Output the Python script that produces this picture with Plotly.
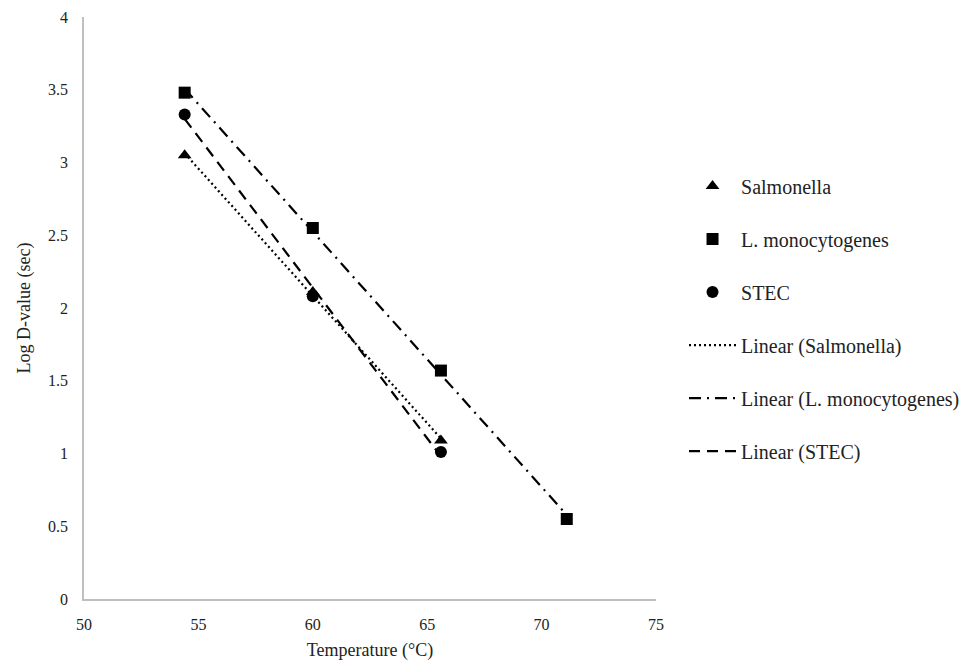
import numpy as np
import plotly.graph_objects as go

temps = [54.4, 60.0, 65.6]
temps_lm = [54.4, 60.0, 65.6, 71.1]
salmonella = [3.05, 2.11, 1.09]
listeria = [3.48, 2.55, 1.57, 0.55]
stec = [3.33, 2.08, 1.01]

FONT = "Liberation Serif"
fig = go.Figure()

series = [
    ("Salmonella", temps, salmonella, "triangle-up", "2px,3px"),
    ("L. monocytogenes", temps_lm, listeria, "square", "12px,6px,2px,6px"),
    ("STEC", temps, stec, "circle", "11px,7px"),
]

for i, (name, xs, ys, sym, dash) in enumerate(series):
    fig.add_trace(go.Scatter(x=xs, y=ys, mode="markers", name=name,
                             legendgroup=f"m{i}", legendrank=i,
                             marker=dict(symbol=sym, size=12, color="black")))

for i, (name, xs, ys, sym, dash) in enumerate(series):
    k, b = np.polyfit(xs, ys, 1)
    xl = [min(xs), max(xs)]
    yl = [k * x + b for x in xl]
    fig.add_trace(go.Scatter(x=xl, y=yl, mode="lines", name=f"Linear ({name})",
                             legendgroup=f"l{i}", legendrank=10 + i,
                             line=dict(color="black", width=2.2, dash=dash)))

fig.update_layout(
    width=967, height=660,
    margin=dict(l=76, r=319, t=9, b=69, autoexpand=False),
    plot_bgcolor="white", paper_bgcolor="white",
    font=dict(family=FONT, size=16, color="#222"),
    xaxis=dict(range=[50, 75], dtick=5, showgrid=False, zeroline=False,
               showline=True, linecolor="#bfbfbf", linewidth=1.5, automargin=False,
               ticks="", tickfont=dict(size=16), ticklabelstandoff=10,
               ticklabeloverflow="allow",
               title=dict(text="Temperature (°C)", font=dict(size=18), standoff=11)),
    yaxis=dict(range=[0, 4], dtick=0.5, showgrid=False, zeroline=False,
               showline=True, linecolor="#bfbfbf", linewidth=1.5, automargin=False,
               ticks="", tickfont=dict(size=16), ticklabelstandoff=11,
               ticklabeloverflow="allow",
               title=dict(text="Log D-value (sec)", font=dict(size=18), standoff=13)),
    legend=dict(x=1.049, y=0.743, xanchor="left", yanchor="top",
                font=dict(family=FONT, size=20, color="#222"),
                tracegroupgap=24, traceorder="grouped", itemwidth=47),
)

fig.write_html("out.html")
